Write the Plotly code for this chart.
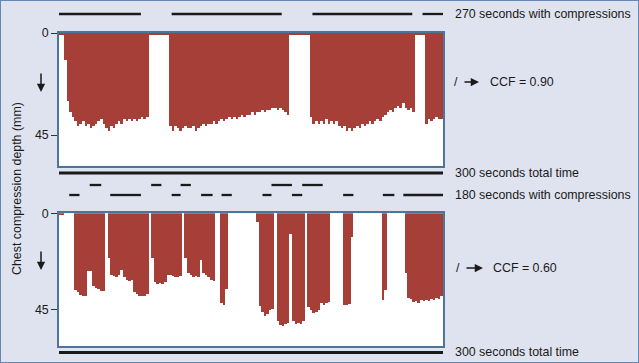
import plotly.graph_objects as go

W, H = 639, 363

# ---------------- data ----------------
# time bins (s), 2-second resolution over 300 s
seconds = list(range(0, 300, 2))

# chest compression depth (mm) per 2-s bin, CCF = 0.90 recording
depth_ccf90 = [
    1, 1, 12, 30, 35, 37, 39, 41, 40, 39,
    41, 40, 42, 41, 40, 39, 38, 40, 42, 43,
    41, 42, 40, 39, 40, 38, 39, 38, 39, 38,
    39, 38, 37, 38, 37, 1, 1, 1, 1, 1,
    1, 1, 1, 41, 43, 41, 42, 43, 42, 41,
    42, 42, 41, 43, 42, 41, 40, 41, 40, 40,
    39, 40, 39, 38, 39, 38, 37, 38, 37, 38,
    37, 36, 37, 36, 36, 35, 36, 35, 35, 34,
    35, 34, 34, 33, 33, 34, 33, 34, 35, 36,
    1, 1, 1, 1, 1, 1, 1, 1, 37, 40,
    39, 40, 39, 40, 38, 40, 39, 40, 39, 41,
    42, 41, 43, 42, 43, 42, 41, 42, 40, 41,
    40, 39, 40, 39, 38, 39, 37, 36, 35, 34,
    35, 33, 32, 33, 31, 33, 34, 33, 35, 1,
    1, 1, 1, 40, 38, 39, 38, 37, 38, 38,
]

# chest compression depth (mm) per 2-s bin, CCF = 0.60 recording
depth_ccf60 = [
    1, 1, 0, 0, 0, 0, 36, 37, 38, 38.5,
    38.5, 27, 27, 34, 35, 35.5, 36.5, 36.5, 0, 21,
    29, 29.5, 30, 29, 26.7, 30, 31, 31.5, 31, 37,
    37.5, 38.5, 38.8, 38.5, 37.5, 0, 21, 32, 33, 32.5,
    33, 32, 29, 29, 29.5, 30, 30, 29.5, 0, 21,
    28, 29, 30, 29.5, 30, 22, 28, 29, 30, 31,
    31.5, 0, 0, 42, 42.7, 35.6, 0, 0, 0, 0,
    0, 0, 0, 0, 0, 0, 0, 4, 43.4, 46,
    48, 47, 45, 44.8, 0, 50.5, 52, 52.7, 51.5, 51,
    10, 50.5, 51.5, 51, 51.5, 50.5, 0, 44, 45, 46.5,
    46, 45, 42, 42.7, 42, 41.5, 0, 0, 0, 0,
    0, 42.7, 42.7, 42.5, 11, 0, 0, 0, 0, 0,
    0, 0, 0, 0, 0, 0, 40.3, 36, 0, 0,
    0, 0, 0, 0, 0, 27.8, 39.5, 40, 41.5, 41,
    42, 40.5, 41, 40.5, 41, 40, 40.5, 39.5, 40, 38.5,
]

# compression periods (s) drawn as dashes
ccf90_start = [0, 88, 198, 284]
ccf90_end = [64, 174, 276, 300]
ccf60_row1_start = [24, 72, 95, 166, 190]
ccf60_row1_end = [33, 80, 103, 182, 206]
ccf60_row2_start = [8, 40, 88, 111, 127, 159, 182, 222, 253, 269]
ccf60_row2_end = [16, 64, 95, 120, 135, 166, 190, 230, 262, 300]
total_time = [0, 300]

tick_vals = [0, 45]
tick_text = ["0", "45"]
label_ccf90 = "270 seconds with compressions"
label_ccf60 = "180 seconds with compressions"
label_total = "300 seconds total time"
ccf90_text = "CCF = 0.90"
ccf60_text = "CCF = 0.60"
y_title = "Chest compression depth (mm)"

# ---------------- styling ----------------
BG = "#dfe3ef"
RED = "#a73f39"
FRAME = "#4d7499"
INK = "#1a1a1a"
FONT = "Liberation Sans, Arial, Helvetica, sans-serif"


def px(x):
    return x / W


def py(y):
    return 1 - y / H


fig = go.Figure()
fig.add_trace(go.Bar(x=seconds, y=depth_ccf90, width=2, offset=0,
                     marker=dict(color=RED, line=dict(width=0)),
                     xaxis="x", yaxis="y", showlegend=False, hoverinfo="skip"))
fig.add_trace(go.Bar(x=seconds, y=depth_ccf60, width=2, offset=0,
                     marker=dict(color=RED, line=dict(width=0)),
                     xaxis="x2", yaxis="y2", showlegend=False, hoverinfo="skip"))

xdom = [px(59), px(443)]
common_x = dict(domain=xdom, range=[0, 300], showticklabels=False, ticks="",
                showgrid=False, zeroline=False, showline=True, mirror=True,
                linecolor=FRAME, linewidth=1.5, fixedrange=True, automargin=False)
common_y = dict(tickvals=tick_vals, ticktext=tick_text, ticks="outside", ticklen=6,
                tickwidth=1, tickcolor="#333", showgrid=False, zeroline=False,
                showline=True, mirror=True, linecolor=FRAME, linewidth=1.5,
                tickfont=dict(size=12.4, color=INK, family=FONT), fixedrange=True,
                automargin=False)

fig.update_layout(
    width=W, height=H, autosize=False,
    margin=dict(l=0, r=0, t=0, b=0, pad=0),
    paper_bgcolor=BG, plot_bgcolor="white",
    bargap=0, barmode="overlay",
    font=dict(family=FONT, size=12, color=INK),
    xaxis=dict(common_x, anchor="y"),
    yaxis=dict(common_y, anchor="x", domain=[py(165.7), py(33)], range=[58.5, 0]),
    xaxis2=dict(common_x, anchor="y2"),
    yaxis2=dict(common_y, anchor="x2", domain=[py(346), py(213.3)], range=[61.8, 0]),
)

shapes = []


def dash_row(starts, ends, yrow, width, xref):
    for s, e in zip(starts, ends):
        shapes.append(dict(type="line", xref=xref, yref="paper", x0=s, x1=e,
                           y0=py(yrow), y1=py(yrow), line=dict(color=INK, width=width)))


dash_row(ccf90_start, ccf90_end, 14, 2.3, "x")
dash_row([total_time[0]], [total_time[1]], 173, 3, "x")
dash_row(ccf60_row1_start, ccf60_row1_end, 185, 2.3, "x2")
dash_row(ccf60_row2_start, ccf60_row2_end, 195, 2.3, "x2")
dash_row([total_time[0]], [total_time[1]], 352.5, 3, "x2")

# outer frame
shapes.append(dict(type="rect", xref="paper", yref="paper", x0=0, x1=1, y0=0, y1=1,
                   line=dict(color="#6388b3", width=2)))
fig.update_layout(shapes=shapes)

ann = []


def text(x, y, s, anchor="left", size=12):
    ann.append(dict(x=px(x), y=py(y), xref="paper", yref="paper", text=s,
                    showarrow=False, xanchor=anchor, yanchor="middle",
                    font=dict(size=size, color=INK, family=FONT)))


text(453, 14, label_ccf90, size=12.4)
text(453, 173, label_total, size=12.4)
text(453, 195, label_ccf60, size=12.4)
text(453, 352, label_total, size=12.4)

text(456, 82, "/", anchor="center", size=12.4)
text(488, 82, ccf90_text, size=12.4)
text(458, 268, "/", anchor="center", size=12.4)
text(491, 268, ccf60_text, size=12.4)

# arrows
for (x, y, ax, ay) in [(479, 82, -16, 0), (483, 268, -18, 0), (41, 92, 0, -20), (41, 270, 0, -20)]:
    ann.append(dict(x=px(x), y=py(y), xref="paper", yref="paper", text="",
                    showarrow=True, arrowhead=2, arrowsize=1.1, arrowwidth=1.5,
                    arrowcolor=INK, ax=ax, ay=ay, standoff=0))

# y-axis title
ann.append(dict(x=px(17), y=py(189), xref="paper", yref="paper", text=y_title,
                showarrow=False, textangle=-90, xanchor="center", yanchor="middle",
                font=dict(size=12.4, color=INK, family=FONT)))
fig.update_layout(annotations=ann)

fig.write_html("out.html", config={"displayModeBar": False},
               post_script="document.body.style.margin='0';document.body.style.padding='0';")
